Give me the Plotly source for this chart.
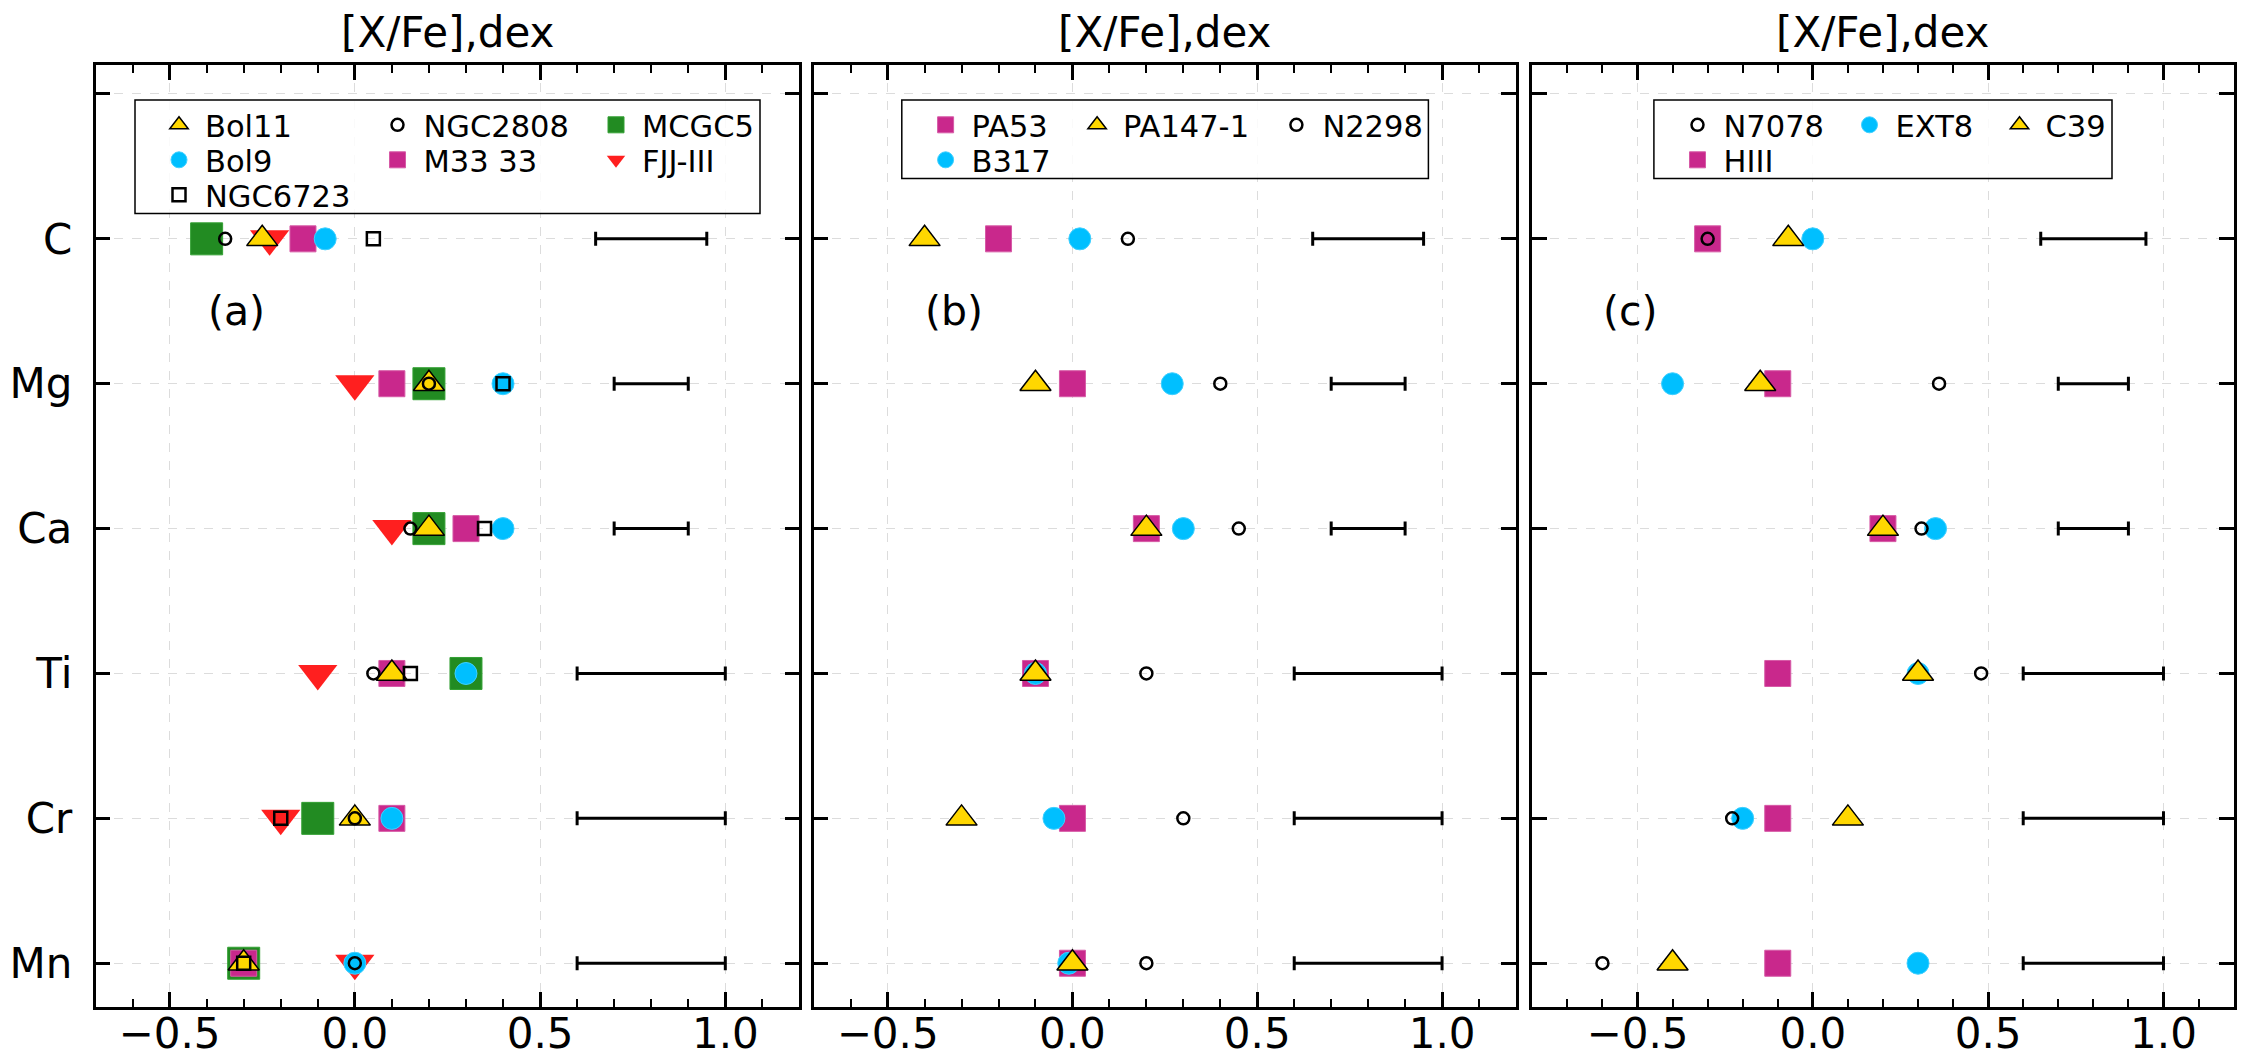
import plotly.graph_objects as go

# ---------------- data ----------------
elements = ['C', 'Mg', 'Ca', 'Ti', 'Cr', 'Mn']
y_ticktext = ['Mn', 'Cr', 'Ti', 'Ca', 'Mg', 'C', '']

# panel (a)
bol11 = [-0.25, 0.20, 0.20, 0.10, 0.00, -0.30]
bol9 = [-0.08, 0.40, 0.40, 0.30, 0.10, 0.00]
ngc6723 = [0.05, 0.40, 0.35, 0.15, -0.20, -0.30]
ngc2808 = [-0.35, 0.20, 0.15, 0.05, 0.00, 0.00]
m33_33 = [-0.14, 0.10, 0.30, 0.10, 0.10, -0.30]
mcgc5 = [-0.40, 0.20, 0.20, 0.30, -0.10, -0.30]
fjj_iii = [-0.23, 0.00, 0.10, -0.10, -0.20, 0.00]

# panel (b)
pa53 = [-0.20, 0.00, 0.20, -0.10, 0.00, 0.00]
b317 = [0.02, 0.27, 0.30, -0.10, -0.05, -0.01]
pa147_1 = [-0.40, -0.10, 0.20, -0.10, -0.30, 0.00]
n2298 = [0.15, 0.40, 0.45, 0.20, 0.30, 0.20]

# panel (c)
n7078 = [-0.30, 0.36, 0.31, 0.48, -0.23, -0.60]
ext8 = [0.00, -0.40, 0.35, 0.30, -0.20, 0.30]
c39 = [-0.07, -0.15, 0.20, 0.30, 0.10, -0.40]
hiii = [-0.30, -0.10, 0.20, -0.10, -0.10, -0.10]

# typical uncertainty bars (same in each panel)
err_lo = [0.65, 0.70, 0.70, 0.60, 0.60, 0.60]
err_hi = [0.95, 0.90, 0.90, 1.00, 1.00, 1.00]

x_ranges = [[-0.7, 1.2], [-0.7, 1.2], [-0.8, 1.2]]
panel_labels = ['(a)', '(b)', '(c)']
panel_label_x = [-0.32, -0.32, -0.52]
panel_label_y = 4.5
title_text = '[X/Fe],dex'

# ---------------- styling ----------------
W, H = 2244, 1061
FONT = 'DejaVu Sans'


def fx(p):
    return p / W


def fy(p):
    return 1 - p / H


STY = {
    'tri_up': dict(symbol='triangle-up', size=27, color='#FFD700', line=dict(color='black', width=1.5)),
    'tri_down': dict(symbol='triangle-down', size=34, color='#FF1F1F', line=dict(color='#FF1F1F', width=0)),
    'circ_cyan': dict(symbol='circle', size=22, color='#00BFFF', line=dict(color='#3FD0FF', width=1)),
    'circ_open': dict(symbol='circle-open', size=12, color='black', line=dict(color='black', width=2.5)),
    'sq_open': dict(symbol='square-open', size=13, color='black', line=dict(color='black', width=2.5)),
    'sq_mag': dict(symbol='square', size=26, color='#C9288C', line=dict(color='#D65AA6', width=1)),
    'sq_green': dict(symbol='square', size=32, color='#228B22', line=dict(color='#33A033', width=1)),
}

ypos = {name: i for i, name in enumerate(y_ticktext) if name}
yvals = [ypos[e] for e in elements]

# (name, values, style, legend id, rank, legendwidth) in drawing order
panels = [
    [
        ('MCGC5', mcgc5, 'sq_green', 'legend', 3, 120),
        ('M33 33', m33_33, 'sq_mag', 'legend2', 2, 161.5),
        ('FJJ-III', fjj_iii, 'tri_down', 'legend2', 3, 120),
        ('Bol11', bol11, 'tri_up', 'legend', 1, 161.5),
        ('Bol9', bol9, 'circ_cyan', 'legend2', 1, 161.5),
        ('NGC2808', ngc2808, 'circ_open', 'legend', 2, 161.5),
        ('NGC6723', ngc6723, 'sq_open', 'legend3', 1, 161.5),
    ],
    [
        ('PA53', pa53, 'sq_mag', 'legend4', 1, 94.5),
        ('B317', b317, 'circ_cyan', 'legend5', 1, 94.5),
        ('PA147-1', pa147_1, 'tri_up', 'legend4', 2, 142.3),
        ('N2298', n2298, 'circ_open', 'legend4', 3, 110),
    ],
    [
        ('HIII', hiii, 'sq_mag', 'legend7', 1, 115),
        ('EXT8', ext8, 'circ_cyan', 'legend6', 2, 93),
        ('C39', c39, 'tri_up', 'legend6', 3, 80),
        ('N7078', n7078, 'circ_open', 'legend6', 1, 115),
    ],
]

# pixel geometry of the three panels
x_dom_px = [(95.5, 799.4), (813.7, 1516.0), (1532.3, 2233.6)]
y_dom = [fy(1006.7), fy(65.0)]

fig = go.Figure()

err_center = [(a + b) / 2 for a, b in zip(err_lo, err_hi)]
err_half = [(b - a) / 2 for a, b in zip(err_lo, err_hi)]

for i, series in enumerate(panels):
    xa = 'x' if i == 0 else f'x{i + 1}'
    ya = 'y' if i == 0 else f'y{i + 1}'
    fig.add_trace(go.Scatter(
        x=err_center, y=yvals, mode='markers', xaxis=xa, yaxis=ya,
        marker=dict(size=1, color='rgba(0,0,0,0)'), showlegend=False, hoverinfo='skip',
        error_x=dict(type='data', array=err_half, symmetric=True, color='black', thickness=3, width=7),
    ))
    for name, vals, sty, leg, rank, lw in series:
        s = STY[sty]
        fig.add_trace(go.Scatter(
            x=vals, y=yvals, mode='markers', name=name, xaxis=xa, yaxis=ya,
            marker=dict(symbol=s['symbol'], size=s['size'], color=s['color'], line=s['line']),
            legend=leg, legendrank=rank, legendwidth=lw,
        ))

axis_common = dict(
    showline=True, linecolor='black', linewidth=2.5, mirror='ticks',
    ticks='inside', ticklen=15, tickwidth=2.5, tickcolor='black',
    showgrid=True, gridcolor='#dcdcdc', griddash='dash', gridwidth=1,
    zeroline=False, automargin=False, tickfont=dict(family=FONT, size=42, color='black'),
)

layout = dict(
    width=W, height=H, margin=dict(l=0, r=0, t=0, b=0, pad=0, autoexpand=False),
    autosize=False,
    paper_bgcolor='white', plot_bgcolor='white',
    font=dict(family=FONT, color='black'),
    showlegend=True,
)

for i in range(3):
    sfx = '' if i == 0 else str(i + 1)
    x0, x1 = x_dom_px[i]
    layout['xaxis' + sfx] = dict(
        axis_common, domain=[fx(x0), fx(x1)], range=x_ranges[i], anchor='y' + sfx,
        tick0=0, dtick=0.5, tickformat='.1f', ticklabelstandoff=-12,
        minor=dict(ticks='inside', ticklen=8, tickwidth=2, tickcolor='black', dtick=0.1, tick0=0, showgrid=False),
    )
    layout['yaxis' + sfx] = dict(
        axis_common, domain=y_dom, range=[-0.3, 6.2], anchor='x' + sfx,
        tickmode='array', tickvals=list(range(len(y_ticktext))), ticktext=y_ticktext,
        showticklabels=(i == 0), ticklabelstandoff=12,
    )

# legends (one per row, arranged as a 3-column grid like the original)
leg_common = dict(
    orientation='h', xanchor='left', yanchor='middle', bgcolor='rgba(0,0,0,0)',
    borderwidth=0, font=dict(family=FONT, size=30.5, color='black'), itemwidth=42,
    traceorder='normal', itemclick=False, itemdoubleclick=False,
)
rows_y = [125.0, 160.0, 195.0]
text1_px = [205.0, 971.6, 1723.5]   # left edge of first-column legend text
legend_ids = [('legend', 0, 0), ('legend2', 0, 1), ('legend3', 0, 2),
              ('legend4', 1, 0), ('legend5', 1, 1),
              ('legend6', 2, 0), ('legend7', 2, 1)]
for lid, p, r in legend_ids:
    layout[lid] = dict(leg_common, x=fx(text1_px[p] - 52), y=fy(rows_y[r]))

boxes = [(135, 760, 100, 213.5), (901.8, 1428.4, 100, 178.5), (1653.9, 2112, 100, 178.5)]
shapes = []
for bx0, bx1, by0, by1 in boxes:
    shapes.append(dict(type='rect', xref='paper', yref='paper', x0=fx(bx0), x1=fx(bx1), y0=fy(by1), y1=fy(by0),
                       line=dict(color='black', width=1.5), fillcolor='rgba(255,255,255,0.85)', layer='above'))
layout['shapes'] = shapes

annotations = []
for i in range(3):
    x0, x1 = x_dom_px[i]
    annotations.append(dict(text=title_text, xref='paper', yref='paper', x=fx((x0 + x1) / 2), y=fy(33),
                            xanchor='center', yanchor='middle', showarrow=False,
                            font=dict(family=FONT, size=42, color='black')))
    sfx = '' if i == 0 else str(i + 1)
    annotations.append(dict(text=panel_labels[i], xref='x' + sfx, yref='y' + sfx, x=panel_label_x[i], y=panel_label_y,
                            xanchor='center', yanchor='middle', showarrow=False,
                            font=dict(family=FONT, size=41, color='black')))
layout['annotations'] = annotations

fig.update_layout(**layout)
fig.write_html('out.html')
